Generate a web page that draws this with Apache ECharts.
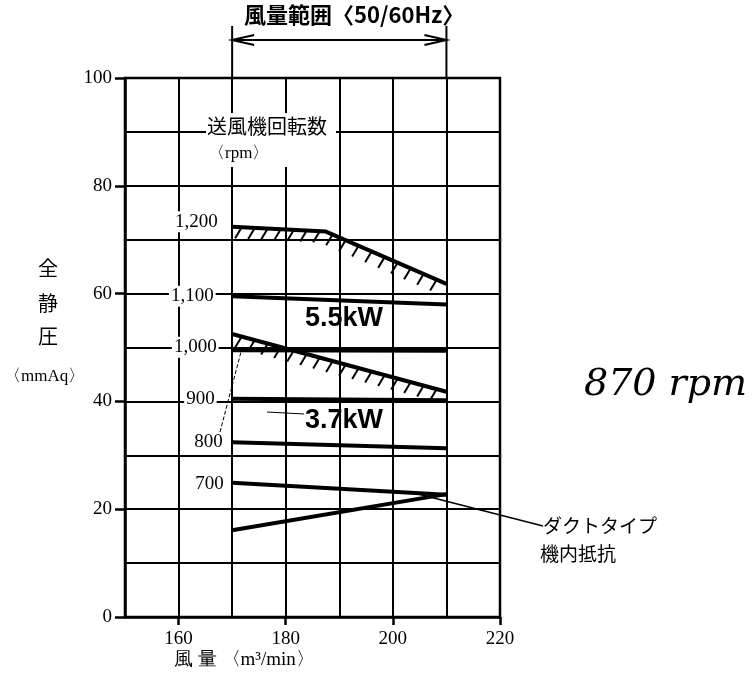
<!DOCTYPE html>
<html><head><meta charset="utf-8">
<script src="https://cdn.jsdelivr.net/npm/echarts@6/dist/echarts.min.js"></script>
<style>html,body{margin:0;padding:0;background:#fff}#c{width:755px;height:685px}</style>
</head><body><div id="c"></div>
<script>
// ---- data ----
const xTicks = [160, 180, 200, 220];
const yTicks = [0, 20, 40, 60, 80, 100];
const rpm1200 = [[170, 72.4], [187.5, 71.5], [210, 61.8]];
const rpm1100 = [[170, 59.5], [210, 58.0]];
const rpm1000 = [[170, 49.5], [210, 49.4]];
const limit55 = [[170, 52.5], [210, 41.8]];
const rpm900 = [[170, 40.5], [210, 40.2]];
const rpm800 = [[170, 32.4], [210, 31.3]];
const rpm700 = [[170, 24.9], [210, 22.7]];
const ductLine = [[170, 16.1], [210, 22.8]];
const rpmLabels = ['1,200', '1,100', '1,000', '900', '800', '700'];
const rangeX = [170, 210];

const chart = echarts.init(document.getElementById('c'), null, {renderer: 'canvas'});
const serif = '"Liberation Serif","DejaVu Serif",serif';
const jp = '"Noto Sans CJK JP",sans-serif';

function lineSeries(pts, label, dist, dy) {
  const data = pts.map((p, i) => {
    if (i === 0 && label) {
      return {value: p, label: {show: true, formatter: label, position: 'left', distance: dist,
        offset: [0, dy], fontFamily: serif, fontSize: 19, color: '#000',
        backgroundColor: '#fff', padding: [1, 2]}};
    }
    return p;
  });
  return {type: 'line', data, symbol: 'circle', symbolSize: 1, showSymbol: true,
    itemStyle: {color: '#000'}, lineStyle: {color: '#000', width: 4}, z: 4,
    silent: true, animation: false};
}

function hatchSeries(pts) {
  return {
    type: 'custom', data: pts, z: 3, silent: true, animation: false, clip: false,
    renderItem: (params, api) => {
      const i = params.dataIndex;
      if (i >= pts.length - 1) return null;
      const origin = api.coord(pts[0])[0];
      const a = api.coord(pts[i]), b = api.coord(pts[i + 1]);
      const step = 13;
      const children = [];
      let x = origin + 9 + Math.ceil((a[0] - origin - 9) / step) * step;
      if (x < a[0]) x += step;
      for (; x < b[0] - 2; x += step) {
        const t = (x - a[0]) / (b[0] - a[0]);
        const y = a[1] + t * (b[1] - a[1]);
        children.push({type: 'line', shape: {x1: x, y1: y + 1, x2: x - 6, y2: y + 11},
          style: {stroke: '#000', lineWidth: 2}});
      }
      return {type: 'group', children};
    }
  };
}

const gridAxisX = {
  type: 'value', min: 150, max: 220, interval: 10, position: 'top',
  axisLine: {show: false}, axisTick: {show: false}, axisLabel: {show: false},
  splitLine: {show: true, lineStyle: {color: '#000', width: 2}}
};
const gridAxisY = {
  type: 'value', min: 0, max: 100, interval: 10, position: 'right',
  axisLine: {show: false}, axisTick: {show: false}, axisLabel: {show: false},
  splitLine: {show: true, lineStyle: {color: '#000', width: 2}}
};

chart.setOption({
  animation: false,
  backgroundColor: '#fff',
  grid: {left: 125, right: 255, top: 78, bottom: 68, show: true, borderColor: '#000', borderWidth: 2.5, backgroundColor: 'transparent'},
  xAxis: [{
    type: 'value', min: 150, max: 220, interval: 10,
    axisLine: {show: true, lineStyle: {color: '#000', width: 2.5}},
    axisTick: {show: true, customValues: xTicks, length: 8, lineStyle: {color: '#000', width: 2.5}},
    axisLabel: {customValues: xTicks, color: '#000', fontFamily: serif, fontSize: 19, margin: 13},
    splitLine: {show: false}
  }, gridAxisX],
  yAxis: [{
    type: 'value', min: 0, max: 100, interval: 10,
    axisLine: {show: true, lineStyle: {color: '#000', width: 2.5}},
    axisTick: {show: true, customValues: yTicks, length: 10, lineStyle: {color: '#000', width: 2.5}},
    axisLabel: {customValues: yTicks, color: '#000', fontFamily: serif, fontSize: 19, margin: 13},
    splitLine: {show: false}
  }, gridAxisY],
  series: [
    hatchSeries(rpm1200),
    hatchSeries(limit55),
    lineSeries(rpm1200, rpmLabels[0], 12, -5),
    lineSeries(rpm1100, rpmLabels[1], 16, 0),
    lineSeries(rpm1000, rpmLabels[2], 13, -3),
    lineSeries(limit55, null),
    lineSeries(rpm900, rpmLabels[3], 15, 0),
    lineSeries(rpm800, rpmLabels[4], 7, 0),
    lineSeries(rpm700, rpmLabels[5], 6, 1),
    lineSeries(ductLine, null)
  ]
});

const xL = chart.convertToPixel({gridIndex: 0}, [rangeX[0], 100]);
const xR = chart.convertToPixel({gridIndex: 0}, [rangeX[1], 100]);
const leadEnd = chart.convertToPixel({gridIndex: 0}, [172, 50.5]);
const ductStart = chart.convertToPixel({gridIndex: 0}, [204, 23]);
const ay = 40;
const ls = {stroke: '#000', lineWidth: 2};

chart.setOption({
  graphic: [
    {type: 'text', left: 244, top: 4, z: 100, style: {text: '風量範囲〈50/60Hz〉', font: 'bold 22px ' + jp, fill: '#000'}},
    {type: 'line', z: 100, shape: {x1: xL[0], y1: ay, x2: xR[0], y2: ay}, style: ls},
    {type: 'line', z: 100, shape: {x1: xL[0], y1: 26, x2: xL[0], y2: xL[1]}, style: ls},
    {type: 'line', z: 100, shape: {x1: xR[0], y1: 26, x2: xR[0], y2: xR[1]}, style: ls},
    {type: 'polyline', z: 100, shape: {points: [[xL[0] + 22, ay - 5], [xL[0], ay], [xL[0] + 22, ay + 5]]}, style: {stroke: '#000', lineWidth: 2, fill: null}},
    {type: 'polyline', z: 100, shape: {points: [[xR[0] - 22, ay - 5], [xR[0], ay], [xR[0] - 22, ay + 5]]}, style: {stroke: '#000', lineWidth: 2, fill: null}},
    {type: 'rect', z: 100, shape: {x: 206, y: 113, width: 130, height: 54}, style: {fill: '#fff'}},
    {type: 'text', z: 101, left: 207, top: 116, style: {text: '送風機回転数', font: '20px ' + jp, fill: '#000'}},
    {type: 'text', z: 101, left: 208, top: 145, style: {text: '〈rpm〉', font: '17px ' + serif, fill: '#000'}},
    {type: 'text', z: 101, left: 305, top: 305, style: {text: '5.5kW', font: 'bold 27px "Liberation Sans",sans-serif', fill: '#000'}},
    {type: 'text', z: 101, left: 305, top: 407, style: {text: '3.7kW', font: 'bold 27px "Liberation Sans",sans-serif', fill: '#000'}},
    {type: 'line', z: 100, shape: {x1: 267, y1: 412, x2: 304, y2: 414}, style: {stroke: '#000', lineWidth: 1}},
    {type: 'line', z: 100, shape: {x1: 220, y1: 432, x2: leadEnd[0], y2: leadEnd[1]}, style: {stroke: '#000', lineWidth: 1, lineDash: [4, 2]}},
    {type: 'line', z: 100, shape: {x1: ductStart[0], y1: ductStart[1], x2: 543, y2: 526}, style: {stroke: '#000', lineWidth: 1.5}},
    {type: 'text', z: 101, left: 543, top: 516, style: {text: 'ダクトタイプ', font: '19px ' + jp, fill: '#000'}},
    {type: 'text', z: 101, left: 540, top: 544, style: {text: '機内抵抗', font: '19px ' + jp, fill: '#000'}},
    {type: 'text', z: 101, left: 38, top: 258, style: {text: '全', font: '20px ' + jp, fill: '#000'}},
    {type: 'text', z: 101, left: 38, top: 293, style: {text: '静', font: '20px ' + jp, fill: '#000'}},
    {type: 'text', z: 101, left: 38, top: 326, style: {text: '圧', font: '20px ' + jp, fill: '#000'}},
    {type: 'text', z: 101, left: 4, top: 368, style: {text: '〈mmAq〉', font: '17px ' + serif, fill: '#000'}},
    {type: 'text', z: 101, left: 174, top: 651, style: {text: '風 量 〈m³/min〉', font: '19px ' + serif, fill: '#000'}},
    {type: 'text', z: 101, left: 584, top: 366, style: {text: '870 rpm', font: 'italic 38px "DejaVu Serif",serif', fill: '#000'}}
  ]
});
</script>
</body></html>
